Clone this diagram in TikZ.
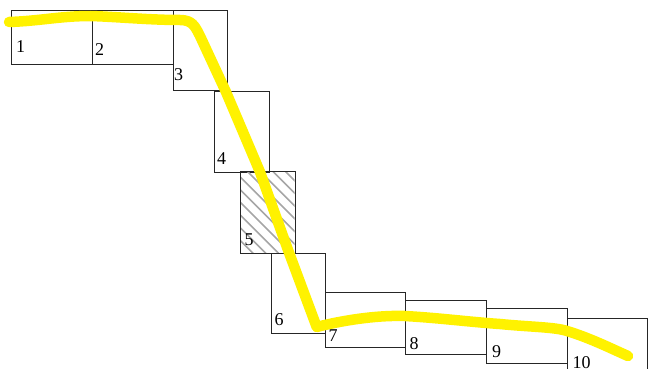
\documentclass[tikz,border=0pt]{standalone}
\usepackage{fontspec}
\setmainfont{Liberation Serif}
\begin{document}
\begin{tikzpicture}[x=1pt,y=-1pt,
  box/.style={draw=black!85, line width=0.8pt, inner sep=0pt, anchor=north west, fill=none},
  num/.style={anchor=base west, inner sep=0pt, font=\fontsize{18}{18}\selectfont},
  hatch/.style={draw=gray!70, line width=1.6pt},
  trail/.style={draw=yellow, line width=10.5pt, line cap=round, line join=round}]
\useasboundingbox (0,0) rectangle (648,369);
\node[box, minimum width=81pt, minimum height=54pt] (b1) at (11,10) {};
\node[box, minimum width=81pt, minimum height=54pt] (b2) at (91.5,10) {};
\node[box, minimum width=54pt, minimum height=80pt] (b3) at (172.5,10) {};
\node[box, minimum width=55pt, minimum height=81pt] (b4) at (213.5,90.5) {};
\begin{scope}
  \clip (240,171.3) rectangle (294.7,253);
  \foreach \k in {-8,...,7} {
    \draw[hatch] (240,176.7+12.7*\k) -- ++(90,90);
  }
\end{scope}
\node[box, minimum width=54.7pt, minimum height=81.7pt] (b5) at (240,171.3) {};
\node[box, minimum width=54.3pt, minimum height=80.3pt] (b6) at (270.7,253) {};
\node[box, minimum width=80pt, minimum height=54.4pt] (b7) at (325,292.3) {};
\node[box, minimum width=81.3pt, minimum height=54.6pt] (b8) at (405,299.7) {};
\node[box, minimum width=80.4pt, minimum height=54.4pt] (b9) at (486.3,308.3) {};
\node[box, minimum width=80.4pt, minimum height=70pt] (b10) at (566.7,318) {};
\node[num] (l1) at (16,53) {1};
\node[num] (l2) at (95,56) {2};
\node[num] (l3) at (174,81) {3};
\node[num] (l4) at (217,164.3) {4};
\node[num] (l5) at (244.5,245.7) {5};
\node[num] (l6) at (274.5,325) {6};
\node[num] (l7) at (328.5,341.7) {7};
\node[num] (l8) at (409.5,349.3) {8};
\node[num] (l9) at (492,357.3) {9};
\node[num] (l10) at (572.5,368) {10};
\draw[trail] (9,22) .. controls (40,21) and (60,16) .. (91,16)
  .. controls (120,17) and (150,20) .. (180,20)
  .. controls (192,20) and (195,26) .. (200,36)
  -- (226,92) -- (260,172) -- (288,250) -- (316.7,327)
  .. controls (340,321) and (375,315) .. (405,316)
  .. controls (440,318) and (470,322) .. (500,324)
  .. controls (530,327) and (555,327) .. (567,331)
  .. controls (590,338) and (610,348) .. (628,356);
\end{tikzpicture}
\end{document}
